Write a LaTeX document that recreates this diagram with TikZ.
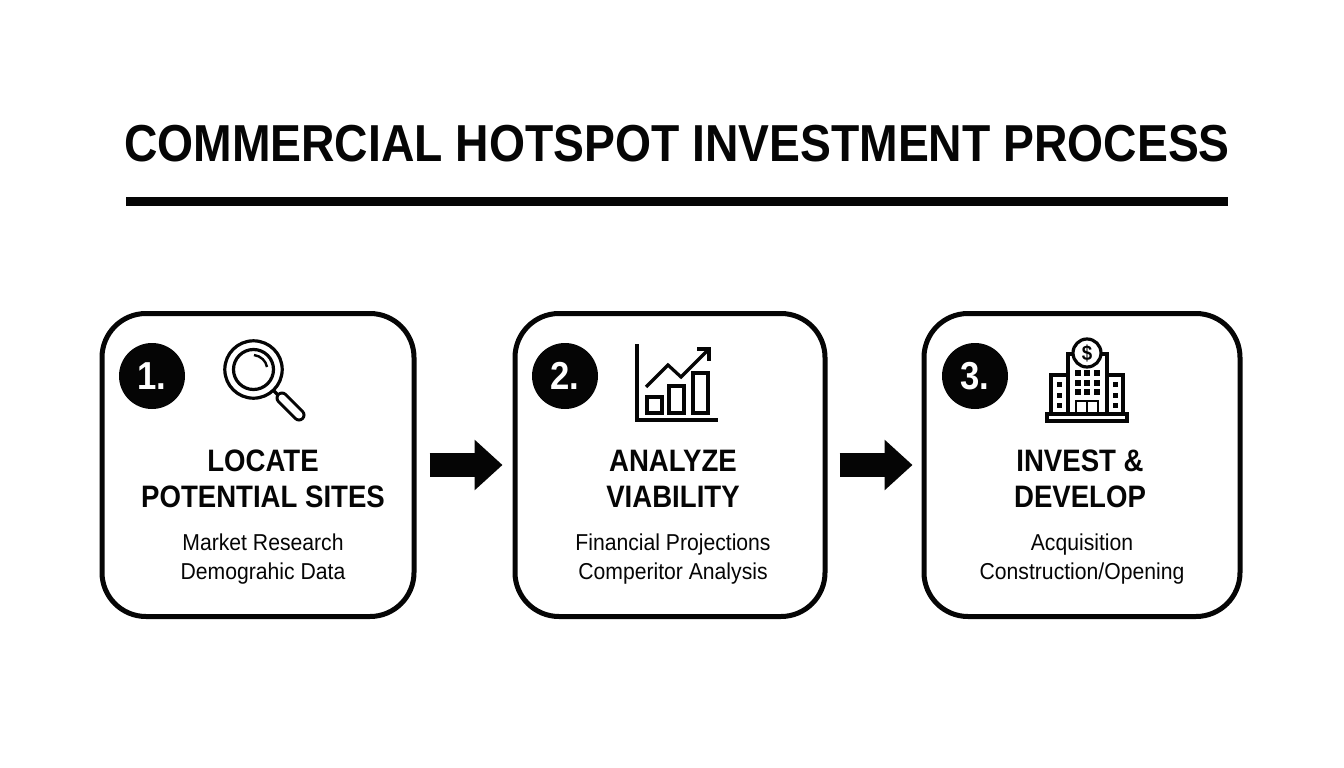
\documentclass[tikz,border=0pt]{standalone}
\usepackage{xcolor}
\usepackage{fontspec}
\usepackage{tikz}
\usetikzlibrary{arrows.meta, positioning, calc}
\setmainfont{Liberation Sans}[FakeStretch=0.92]
\newfontfamily\headfont{Liberation Sans}[FakeStretch=0.89, UprightFont={* Bold}]
\definecolor{inkcolor}{RGB}{5,5,5}

\begin{document}
\begin{tikzpicture}[
    x=1pt, y=-1pt,
    card/.style={draw=inkcolor, line width=5pt, fill=white, minimum width=#1, minimum height=303pt, rounded corners=44pt, inner sep=0pt},
    badge/.style={circle, fill=inkcolor, text=white, minimum size=66pt, inner sep=0pt, font=\fontsize{39}{39}\headfont\selectfont},
    heading/.style={text=inkcolor, align=center, inner sep=0pt, font=\fontsize{31}{36}\headfont\selectfont},
    detail/.style={text=inkcolor, align=center, inner sep=0pt, font=\fontsize{23}{29}\selectfont},
    blockarrow/.style={draw=inkcolor, line width=24pt, -{Triangle[length=28pt, width=49pt]}},
    icon/.style={draw=inkcolor, line width=3.2pt},
    thinicon/.style={draw=inkcolor, line width=2.4pt}
]
    \useasboundingbox (0,0) rectangle (1344,768);

    % Title and rule
    \node[text=inkcolor, inner sep=0pt, font=\fontsize{52}{52}\headfont\selectfont] (title) at (677,144) {COMMERCIAL HOTSPOT INVESTMENT PROCESS};
    \coordinate (ruleleft) at (126,201);
    \coordinate (ruleright) at (1228,201);
    \draw[draw=inkcolor, line width=9pt] (ruleleft) -- (ruleright);

    % Three cards
    \node[card=312pt] (locate) at (258,465) {};
    \node[card=310pt] (analyze) at (670,465) {};
    \node[card=316pt] (invest) at (1082,465) {};

    % Connections between cards
    \draw[blockarrow] ([xshift=13pt]locate.east) -- ([xshift=-10pt]analyze.west);
    \draw[blockarrow] ([xshift=12pt]analyze.east) -- ([xshift=-9pt]invest.west);

    % Number badges
    \node[badge] (one) at (152,376) {1.};
    \node[badge] (two) at (565,376) {2.};
    \node[badge] (three) at (975,376) {3.};

    % Card texts
    \node[heading] (locatehead) at (263,479) {LOCATE\\POTENTIAL SITES};
    \node[detail] (locatetext) at (263,559) {Market Research\\Demograhic Data};
    \node[heading] (analyzehead) at (673,479) {ANALYZE\\VIABILITY};
    \node[detail] (analyzetext) at (673,559) {Financial Projections\\Comperitor Analysis};
    \node[heading] (investhead) at (1080,479) {INVEST \&\\DEVELOP};
    \node[detail] (investtext) at (1082,559) {Acquisition\\Construction/Opening};

    % Magnifier icon
    \draw[icon] (253.5,369.5) circle[radius=28.7];
    \draw[icon] (253.5,369.5) circle[radius=20];
    \draw[thinicon] (254,355) .. controls (261,356) and (266,361) .. (267,367);
    \draw[icon] (273,390) -- (279,396);
    \draw[draw=inkcolor, line width=3pt, double=white, double distance=7pt, line cap=round] (282,398) -- (299,415);

    % Chart icon
    \draw[icon] (637,344) -- (637,420) -- (718,420);
    \draw[icon] (647,397) rectangle (662,413);
    \draw[icon] (669,386) rectangle (684,413);
    \draw[icon] (693,373) rectangle (708,413);
    \draw[icon] (646,387) -- (668,365) -- (681,377) -- (708,350);
    \draw[icon] (697,349) -- (709,349) -- (709,361);

    % Building icon
    \draw[icon] (1068,414) -- (1068,354) -- (1107,354) -- (1107,414);
    \draw[icon] (1068,375) -- (1051,375) -- (1051,414);
    \draw[icon] (1107,375) -- (1123,375) -- (1123,414);
    \draw[icon] (1047,414) rectangle (1127,421);
    \node[circle, draw=inkcolor, line width=3.2pt, fill=white, minimum size=28pt, inner sep=0pt, text=inkcolor, font=\fontsize{21}{21}\headfont\selectfont] (coin) at (1087,353) {\$};
    \foreach \wx in {1078,1087,1097}
        \foreach \wy in {373,383,392}
            \fill[inkcolor] (\wx-2.8,\wy-2.8) rectangle (\wx+2.8,\wy+2.8);
    \foreach \wx in {1059,1115}
        \foreach \wy in {384,395,405}
            \fill[inkcolor] (\wx-2.5,\wy-2.5) rectangle (\wx+2.5,\wy+2.5);
    \draw[thinicon] (1076,414) -- (1076,401) -- (1098,401) -- (1098,414);
    \draw[thinicon] (1087,401) -- (1087,414);
\end{tikzpicture}
\end{document}
